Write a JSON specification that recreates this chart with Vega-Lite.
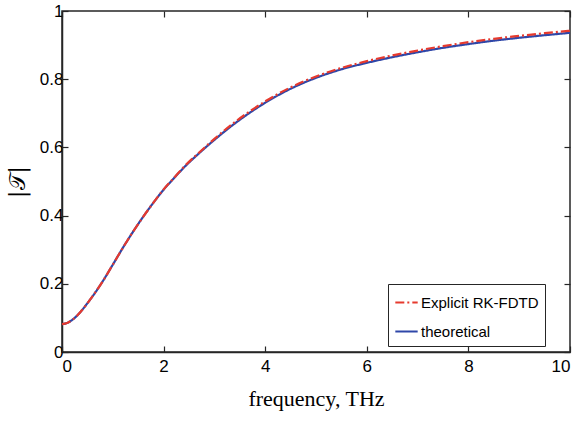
{
  "$schema": "https://vega.github.io/schema/vega-lite/v6.json",
  "width": 508,
  "height": 341,
  "autosize": {"type": "none"},
  "padding": {"left": 62, "top": 11, "right": 12, "bottom": 69},
  "background": "white",
  "view": {"stroke": "#262626", "strokeWidth": 1.5},
  "config": {
    "axis": {
      "domainColor": "#262626",
      "domainWidth": 1.5,
      "tickColor": "#262626",
      "tickWidth": 1.2,
      "tickSize": -6,
      "grid": false,
      "labelFont": "Liberation Sans",
      "labelFontSize": 17,
      "labelColor": "#000000",
      "titleFontWeight": "normal",
      "titleColor": "#000000"
    }
  },
  "data": {
    "values": [
      {"f": 0, "v": 0.082, "s": "theoretical"},
      {"f": 0.1, "v": 0.085, "s": "theoretical"},
      {"f": 0.2, "v": 0.094, "s": "theoretical"},
      {"f": 0.3, "v": 0.107, "s": "theoretical"},
      {"f": 0.4, "v": 0.124, "s": "theoretical"},
      {"f": 0.5, "v": 0.143, "s": "theoretical"},
      {"f": 0.6, "v": 0.163, "s": "theoretical"},
      {"f": 0.8, "v": 0.207, "s": "theoretical"},
      {"f": 1.0, "v": 0.256, "s": "theoretical"},
      {"f": 1.2, "v": 0.306, "s": "theoretical"},
      {"f": 1.4, "v": 0.353, "s": "theoretical"},
      {"f": 1.6, "v": 0.397, "s": "theoretical"},
      {"f": 1.8, "v": 0.438, "s": "theoretical"},
      {"f": 2.0, "v": 0.476, "s": "theoretical"},
      {"f": 2.2, "v": 0.509, "s": "theoretical"},
      {"f": 2.4, "v": 0.541, "s": "theoretical"},
      {"f": 2.7, "v": 0.583, "s": "theoretical"},
      {"f": 3.0, "v": 0.622, "s": "theoretical"},
      {"f": 3.4, "v": 0.67, "s": "theoretical"},
      {"f": 3.7, "v": 0.702, "s": "theoretical"},
      {"f": 4.0, "v": 0.731, "s": "theoretical"},
      {"f": 4.5, "v": 0.772, "s": "theoretical"},
      {"f": 5.0, "v": 0.804, "s": "theoretical"},
      {"f": 5.5, "v": 0.829, "s": "theoretical"},
      {"f": 6.0, "v": 0.848, "s": "theoretical"},
      {"f": 6.5, "v": 0.8645, "s": "theoretical"},
      {"f": 7.0, "v": 0.879, "s": "theoretical"},
      {"f": 7.5, "v": 0.892, "s": "theoretical"},
      {"f": 8.0, "v": 0.903, "s": "theoretical"},
      {"f": 8.5, "v": 0.913, "s": "theoretical"},
      {"f": 9.0, "v": 0.9215, "s": "theoretical"},
      {"f": 9.5, "v": 0.929, "s": "theoretical"},
      {"f": 10, "v": 0.936, "s": "theoretical"},
      {"f": 0, "v": 0.082, "s": "Explicit RK-FDTD"},
      {"f": 0.1, "v": 0.085, "s": "Explicit RK-FDTD"},
      {"f": 0.2, "v": 0.094, "s": "Explicit RK-FDTD"},
      {"f": 0.3, "v": 0.107, "s": "Explicit RK-FDTD"},
      {"f": 0.4, "v": 0.124, "s": "Explicit RK-FDTD"},
      {"f": 0.5, "v": 0.143, "s": "Explicit RK-FDTD"},
      {"f": 0.6, "v": 0.163, "s": "Explicit RK-FDTD"},
      {"f": 0.8, "v": 0.207, "s": "Explicit RK-FDTD"},
      {"f": 1.0, "v": 0.256, "s": "Explicit RK-FDTD"},
      {"f": 1.2, "v": 0.306, "s": "Explicit RK-FDTD"},
      {"f": 1.4, "v": 0.353, "s": "Explicit RK-FDTD"},
      {"f": 1.6, "v": 0.397, "s": "Explicit RK-FDTD"},
      {"f": 1.8, "v": 0.438, "s": "Explicit RK-FDTD"},
      {"f": 2.0, "v": 0.477, "s": "Explicit RK-FDTD"},
      {"f": 2.2, "v": 0.51, "s": "Explicit RK-FDTD"},
      {"f": 2.4, "v": 0.543, "s": "Explicit RK-FDTD"},
      {"f": 2.7, "v": 0.585, "s": "Explicit RK-FDTD"},
      {"f": 3.0, "v": 0.625, "s": "Explicit RK-FDTD"},
      {"f": 3.4, "v": 0.674, "s": "Explicit RK-FDTD"},
      {"f": 3.7, "v": 0.706, "s": "Explicit RK-FDTD"},
      {"f": 4.0, "v": 0.735, "s": "Explicit RK-FDTD"},
      {"f": 4.5, "v": 0.776, "s": "Explicit RK-FDTD"},
      {"f": 5.0, "v": 0.808, "s": "Explicit RK-FDTD"},
      {"f": 5.5, "v": 0.833, "s": "Explicit RK-FDTD"},
      {"f": 6.0, "v": 0.853, "s": "Explicit RK-FDTD"},
      {"f": 6.5, "v": 0.8695, "s": "Explicit RK-FDTD"},
      {"f": 7.0, "v": 0.884, "s": "Explicit RK-FDTD"},
      {"f": 7.5, "v": 0.897, "s": "Explicit RK-FDTD"},
      {"f": 8.0, "v": 0.9085, "s": "Explicit RK-FDTD"},
      {"f": 8.5, "v": 0.9185, "s": "Explicit RK-FDTD"},
      {"f": 9.0, "v": 0.927, "s": "Explicit RK-FDTD"},
      {"f": 9.5, "v": 0.935, "s": "Explicit RK-FDTD"},
      {"f": 10, "v": 0.942, "s": "Explicit RK-FDTD"}
    ]
  },
  "layer": [
    {
      "mark": {"type": "line", "strokeWidth": 2.2, "interpolate": "monotone"},
      "encoding": {
        "x": {
          "field": "f", "type": "quantitative",
          "scale": {"domain": [0, 10], "nice": false},
          "axis": {
            "values": [0, 2, 4, 6, 8, 10],
            "format": "~r",
            "title": "frequency, THz",
            "titleFont": "Liberation Serif",
            "titleFontSize": 22,
            "titlePadding": 14,
            "labelPadding": 12
          }
        },
        "y": {
          "field": "v", "type": "quantitative",
          "scale": {"domain": [0, 1], "nice": false},
          "axis": {
            "values": [0, 0.2, 0.4, 0.6, 0.8, 1],
            "format": "~g",
            "title": "|𝒯|",
            "titleFont": "DejaVu Serif",
            "titleFontSize": 22,
            "titlePadding": 10,
            "labelPadding": 5
          }
        },
        "color": {
          "field": "s", "type": "nominal",
          "scale": {"domain": ["Explicit RK-FDTD", "theoretical"], "range": ["#e63a2e", "#2f47a8"]},
          "legend": {
            "title": null,
            "orient": "none",
            "legendX": 326,
            "legendY": 273,
            "direction": "vertical",
            "symbolType": "stroke",
            "symbolSize": 500,
            "symbolStrokeWidth": 2.2,
            "labelFont": "Liberation Sans",
            "labelFontSize": 15,
            "labelColor": "#000000",
            "strokeColor": "#262626",
            "fillColor": "white",
            "padding": 6,
            "rowPadding": 8,
            "labelOffset": 2
          }
        },
        "strokeDash": {
          "field": "s", "type": "nominal",
          "scale": {"domain": ["Explicit RK-FDTD", "theoretical"], "range": [[9, 3, 2, 3], [1, 0]]},
          "legend": null
        }
      }
    },
    {
      "mark": {"type": "line", "opacity": 0},
      "encoding": {
        "x": {
          "field": "f", "type": "quantitative",
          "axis": {"orient": "top", "values": [0, 2, 4, 6, 8, 10], "labels": false, "title": null, "domain": false}
        },
        "y": {
          "field": "v", "type": "quantitative",
          "axis": {"orient": "right", "values": [0, 0.2, 0.4, 0.6, 0.8, 1], "labels": false, "title": null, "domain": false}
        }
      }
    }
  ],
  "resolve": {"axis": {"x": "independent", "y": "independent"}}
}
